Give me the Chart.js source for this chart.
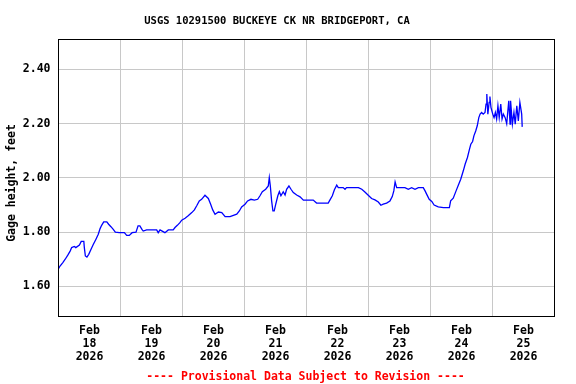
<!DOCTYPE html>
<html>
<head>
<meta charset="utf-8">
<script src="https://cdn.jsdelivr.net/npm/chart.js@4"></script>
<style>
  html, body { margin: 0; padding: 0; background: #fff; }
  canvas { display: block; }
</style>
</head>
<body>
<canvas id="gageChart" width="576" height="384"></canvas>
<script>
var siteTitle = 'USGS 10291500 BUCKEYE CK NR BRIDGEPORT, CA';
var yLabel = 'Gage height, feet';
var footNote = '---- Provisional Data Subject to Revision ----';
var monthLabel = 'Feb';
var yearLabel = '2026';
var dayLabels = ['18', '19', '20', '21', '22', '23', '24', '25'];
var yTicks = [1.60, 1.80, 2.00, 2.20, 2.40];

// hours since Feb 18 00:00
var hours = [
    0.0, 0.6, 1.6, 2.6, 3.6, 4.5, 5.1, 6.1, 6.7, 8.1, 8.8, 9.8, 10.0, 10.4, 11.0, 11.7,
    12.6, 13.5, 14.5, 15.4, 16.1, 16.7, 17.5, 18.7, 19.4, 20.3, 21.2, 22.0, 23.5,
    25.5, 26.4, 27.4, 28.5, 30.0, 30.8, 31.5, 32.3, 32.8, 34.1, 38.0, 38.6, 39.3,
    41.2, 42.5, 44.4, 45.1, 46.0, 47.0, 47.7, 49.0, 50.2, 51.6, 52.6, 53.5, 54.5,
    55.4, 56.7, 58.0, 58.9, 59.7, 60.6, 61.9, 63.2, 64.5, 66.4, 67.7, 69.0, 70.0,
    70.9, 72.2, 73.2, 74.5, 75.8, 77.1, 78.0, 78.9, 80.2, 81.2, 81.6, 82.0, 82.5,
    83.0, 83.5, 84.1, 84.9, 85.5, 86.1, 87.0, 87.7, 88.3, 89.2, 90.0, 90.9, 92.2,
    93.5, 94.8, 98.6, 99.9, 104.4, 105.1, 106.0, 106.8, 107.7, 108.3, 110.2, 110.9,
    111.5, 116.1, 117.4, 118.6, 119.9, 121.2, 122.5, 123.8, 124.8, 125.7, 127.0,
    128.3, 129.2, 129.8, 130.3, 130.9, 132.2, 134.1, 135.4, 136.7, 138.0, 139.3,
    141.2, 141.9, 142.5, 143.5, 144.5, 145.4, 147.0, 149.0, 151.3, 151.8, 152.8,
    153.9, 154.8, 155.7, 156.7, 157.4, 158.3, 159.1, 159.6, 160.3, 160.8, 161.5,
    162.1, 162.7, 163.2, 163.8, 164.4, 165.1, 165.5, 165.8, 166.2, 166.7, 167.0,
    167.4, 168.1, 168.6, 169.1, 169.6, 170.1, 170.6, 171.2, 171.7, 172.2, 172.9,
    173.5, 174.3, 174.8, 175.0, 175.7, 176.3, 176.8, 177.4, 178.0, 178.6, 179.3, 179.5
];
var gage = [
    1.665, 1.675, 1.687, 1.700, 1.715, 1.730, 1.743, 1.747, 1.743, 1.752, 1.766, 1.766, 1.743, 1.712, 1.708, 1.718,
    1.737, 1.755, 1.774, 1.792, 1.813, 1.825, 1.838, 1.838, 1.829, 1.820, 1.810, 1.800, 1.798,
    1.798, 1.788, 1.788, 1.798, 1.800, 1.823, 1.823, 1.810, 1.804, 1.808, 1.808, 1.798, 1.808,
    1.798, 1.808, 1.808, 1.817, 1.825, 1.835, 1.844, 1.851, 1.860, 1.872, 1.882, 1.897, 1.915,
    1.921, 1.936, 1.924, 1.903, 1.882, 1.866, 1.874, 1.872, 1.857, 1.857, 1.862, 1.866, 1.878,
    1.893, 1.903, 1.915, 1.921, 1.918, 1.921, 1.934, 1.949, 1.958, 1.970, 2.001, 1.970, 1.915,
    1.878, 1.878, 1.903, 1.934, 1.949, 1.934, 1.949, 1.937, 1.958, 1.970, 1.958, 1.946, 1.937,
    1.930, 1.918, 1.918, 1.907, 1.907, 1.919, 1.934, 1.956, 1.973, 1.964, 1.964, 1.958,
    1.964, 1.964, 1.958, 1.948, 1.936, 1.924, 1.919, 1.911, 1.899, 1.903, 1.907,
    1.915, 1.931, 1.952, 1.985, 1.964, 1.964, 1.964, 1.958, 1.964, 1.958, 1.964,
    1.964, 1.952, 1.940, 1.921, 1.913, 1.900, 1.893, 1.890, 1.890, 1.915, 1.925,
    1.952, 1.974, 1.995, 2.026, 2.050, 2.075, 2.106, 2.124, 2.134, 2.155, 2.173,
    2.192, 2.222, 2.235, 2.241, 2.235, 2.241, 2.272, 2.309, 2.235, 2.278, 2.300,
    2.260, 2.235, 2.222, 2.241, 2.217, 2.266, 2.222, 2.272, 2.217, 2.235, 2.222,
    2.200, 2.284, 2.198, 2.284, 2.198, 2.241, 2.198, 2.266, 2.210, 2.278, 2.235, 2.188
];

var points = hours.map(function(h, i) { return { x: h, y: gage[i] }; });
var monoFont = '"DejaVu Sans Mono", "Liberation Mono", monospace';

var usgsText = {
    id: 'usgsText',
    afterDraw: function(chart) {
        var c = chart.ctx, a = chart.chartArea;
        c.save();
        c.strokeStyle = '#000';
        c.lineWidth = 1;
        c.strokeRect(a.left, a.top, a.right - a.left, a.bottom - a.top);
        c.textAlign = 'center';
        c.textBaseline = 'middle';
        c.fillStyle = '#000';
        c.font = 'bold 10.5px ' + monoFont;
        c.fillText(siteTitle, 277, 21);
        c.fillStyle = '#ff0000';
        c.font = 'bold 11.5px ' + monoFont;
        c.fillText(footNote, 305.5, 377);
        c.fillStyle = '#000';
        c.translate(12, 183);
        c.rotate(-Math.PI / 2);
        c.fillText(yLabel, 0, 0);
        c.restore();
    }
};

var ctx = document.getElementById('gageChart').getContext('2d');
var gage_chart = new Chart(ctx, {
    type: 'line',
    data: {
        datasets: [{
            data: points,
            borderColor: '#0000ff',
            borderWidth: 1.3,
            pointRadius: 0,
            tension: 0,
            fill: false
        }]
    },
    options: {
        responsive: false,
        animation: false,
        devicePixelRatio: 1,
        layout: { padding: { top: 39.5, right: 21.5, bottom: 0, left: 0 } },
        plugins: { legend: { display: false }, tooltip: { enabled: false } },
        scales: {
            x: {
                type: 'linear',
                min: 0,
                max: dayLabels.length * 24,
                afterBuildTicks: function(scale) {
                    var t = [];
                    for (var i = 0; i <= dayLabels.length * 2; i++) t.push({ value: i * 12 });
                    scale.ticks = t;
                },
                afterFit: function(scale) { scale.height = 67.5; },
                border: { display: false },
                grid: {
                    drawTicks: false,
                    lineWidth: 1,
                    color: function(context) {
                        return context.tick && context.tick.value % 24 === 0 ? '#c8c8c8' : 'rgba(0,0,0,0)';
                    }
                },
                ticks: {
                    autoSkip: false,
                    maxRotation: 0,
                    padding: 8.5,
                    color: '#000',
                    font: { family: monoFont, size: 11.5, weight: 'bold', lineHeight: '13px' },
                    callback: function(value) {
                        if (value % 24 !== 12) return '';
                        var d = dayLabels[Math.floor(value / 24)];
                        return [monthLabel, d, yearLabel];
                    }
                }
            },
            y: {
                min: 1.489,
                max: 2.51,
                afterBuildTicks: function(scale) {
                    scale.ticks = yTicks.map(function(v) { return { value: v }; });
                },
                afterFit: function(scale) { scale.width = 58.5; },
                border: { display: false },
                grid: { drawTicks: false, color: '#c8c8c8', lineWidth: 1 },
                ticks: {
                    padding: 8,
                    color: '#000',
                    font: { family: monoFont, size: 11.5, weight: 'bold' },
                    callback: function(value) { return value.toFixed(2); }
                }
            }
        }
    },
    plugins: [usgsText]
});
</script>
</body>
</html>
